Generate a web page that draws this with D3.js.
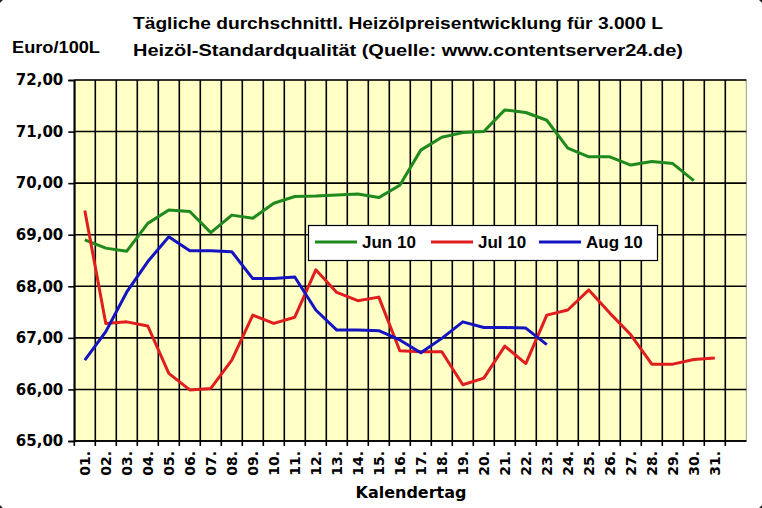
<!DOCTYPE html>
<html lang="de">
<head>
<meta charset="UTF-8" />
<title>Heizölpreise</title>
<script src="https://d3js.org/d3.v7.min.js"></script>
<style>
  body { margin: 0; background: #fff; }
  text { font-family: "Liberation Sans", Arial, sans-serif; font-weight: bold; fill: #000; }
  .tick-label { font-family: "DejaVu Sans", Verdana, sans-serif; font-size: 15px; }
  .day-label { font-family: "DejaVu Sans", Verdana, sans-serif; font-size: 14px; }
  .axis-title { font-family: "DejaVu Sans", Verdana, sans-serif; font-size: 16px; }
</style>
</head>
<body>
<svg width="762" height="508"></svg>
<script>
  // tick labels
  const days = ["01.", "02.", "03.", "04.", "05.", "06.", "07.", "08.", "09.", "10.",
    "11.", "12.", "13.", "14.", "15.", "16.", "17.", "18.", "19.", "20.",
    "21.", "22.", "23.", "24.", "25.", "26.", "27.", "28.", "29.", "30.", "31.", ""];
  const yTicks = [65, 66, 67, 68, 69, 70, 71, 72];

  // series (Euro/100L)
  const jun = [68.90, 68.74, 68.68, 69.22, 69.48, 69.45, 69.04, 69.38, 69.32, 69.61,
    69.74, 69.75, 69.77, 69.79, 69.72, 69.96, 70.64, 70.89, 70.98, 71.00,
    71.42, 71.37, 71.22, 70.68, 70.51, 70.51, 70.35, 70.42, 70.38, 70.05];
  const jul = [69.47, 67.28, 67.31, 67.23, 66.31, 65.99, 66.02, 66.57, 67.44, 67.28,
    67.40, 68.32, 67.88, 67.72, 67.79, 66.75, 66.73, 66.73, 66.09, 66.22,
    66.84, 66.50, 67.44, 67.54, 67.93, 67.48, 67.06, 66.49, 66.49, 66.58, 66.61];
  const aug = [66.57, 67.12, 67.89, 68.48, 68.96, 68.69, 68.69, 68.67, 68.15, 68.15,
    68.18, 67.54, 67.15, 67.15, 67.14, 66.96, 66.71, 66.99, 67.31, 67.20,
    67.20, 67.19, 66.87];

  const series = [
    { name: "Jun 10", values: jun, color: "#1e8a1e" },
    { name: "Jul 10", values: jul, color: "#e01e1e" },
    { name: "Aug 10", values: aug, color: "#1414c0" }
  ];

  const svg = d3.select("svg");
  const plotLeft = 74.3, plotRight = 746.3, plotTop = 80, plotBottom = 441;

  const x = d3.scaleBand().domain(d3.range(days.length)).range([plotLeft, plotRight]).padding(0);
  const y = d3.scaleLinear().domain([65, 72]).range([plotBottom, plotTop]);

  // outer rounded frame (mostly off-canvas, only the corners show)
  svg.append("rect")
    .attr("x", -4).attr("y", -4).attr("width", 770).attr("height", 516)
    .attr("rx", 16)
    .attr("fill", "none").attr("stroke", "#222").attr("stroke-width", 2);

  // plot area
  svg.append("rect")
    .attr("x", plotLeft).attr("y", plotTop)
    .attr("width", plotRight - plotLeft).attr("height", plotBottom - plotTop)
    .attr("fill", "#ffffc6")
    .attr("stroke", "#999").attr("stroke-width", 1);

  // grid
  const grid = svg.append("g").attr("stroke", "#000").attr("stroke-width", 1.6);
  grid.selectAll("line.h")
    .data(yTicks)
    .enter()
    .append("line")
    .attr("x1", plotLeft).attr("x2", plotRight)
    .attr("y1", (d) => y(d)).attr("y2", (d) => y(d));
  grid.selectAll("line.v")
    .data(d3.range(days.length))
    .enter()
    .append("line")
    .attr("x1", (d) => x(d)).attr("x2", (d) => x(d))
    .attr("y1", plotTop).attr("y2", plotBottom + 5);

  // y axis
  const yAxis = svg.append("g")
    .attr("transform", `translate(${plotLeft},0)`)
    .call(d3.axisLeft(y).tickValues(yTicks).tickSize(6).tickPadding(5)
      .tickFormat((d) => d.toFixed(2).replace(".", ",")));
  yAxis.select(".domain").attr("stroke", "#000").attr("stroke-width", 1.6);
  yAxis.selectAll(".tick line").attr("stroke", "#000").attr("stroke-width", 1.6);
  yAxis.selectAll(".tick text").attr("class", "tick-label").attr("fill", "#000");

  // x axis line
  svg.append("line")
    .attr("x1", plotLeft).attr("x2", plotRight)
    .attr("y1", plotBottom).attr("y2", plotBottom)
    .attr("stroke", "#000").attr("stroke-width", 1.6);

  // x labels
  svg.append("g")
    .selectAll("text")
    .data(days)
    .enter()
    .append("text")
    .attr("class", "day-label")
    .attr("text-anchor", "end")
    .attr("transform", (d, i) => `translate(${x(i) + x.bandwidth() / 2 + 5},451) rotate(-90)`)
    .text((d) => d);

  // lines
  const line = d3.line()
    .x((d, i) => x(i) + x.bandwidth() / 2)
    .y((d) => y(d));

  svg.append("g")
    .selectAll("path")
    .data(series)
    .enter()
    .append("path")
    .attr("d", (d) => line(d.values))
    .attr("fill", "none")
    .attr("stroke", (d) => d.color)
    .attr("stroke-width", 3)
    .attr("stroke-linejoin", "round");

  // legend
  const legend = svg.append("g");
  legend.append("rect")
    .attr("x", 308.5).attr("y", 225.5).attr("width", 349).attr("height", 35)
    .attr("fill", "#fff").attr("stroke", "#000").attr("stroke-width", 1.2);
  const legendX = [315, 431, 539];
  series.forEach((s, i) => {
    legend.append("line")
      .attr("x1", legendX[i]).attr("x2", legendX[i] + 42)
      .attr("y1", 242).attr("y2", 242)
      .attr("stroke", s.color).attr("stroke-width", 3);
    legend.append("text")
      .attr("x", legendX[i] + 47).attr("y", 248)
      .attr("font-size", 17)
      .text(s.name);
  });

  // titles
  svg.append("text")
    .attr("x", 133).attr("y", 29)
    .attr("font-size", 17)
    .attr("textLength", 530).attr("lengthAdjust", "spacingAndGlyphs")
    .text("Tägliche durchschnittl. Heizölpreisentwicklung für 3.000 L");
  svg.append("text")
    .attr("x", 133).attr("y", 56)
    .attr("font-size", 17)
    .attr("textLength", 550).attr("lengthAdjust", "spacingAndGlyphs")
    .text("Heizöl-Standardqualität (Quelle: www.contentserver24.de)");
  svg.append("text")
    .attr("x", 12).attr("y", 53)
    .attr("font-size", 17)
    .attr("textLength", 88).attr("lengthAdjust", "spacingAndGlyphs")
    .text("Euro/100L");

  svg.append("text")
    .attr("class", "axis-title")
    .attr("x", 411).attr("y", 498)
    .attr("text-anchor", "middle")
    .text("Kalendertag");
</script>
</body>
</html>
